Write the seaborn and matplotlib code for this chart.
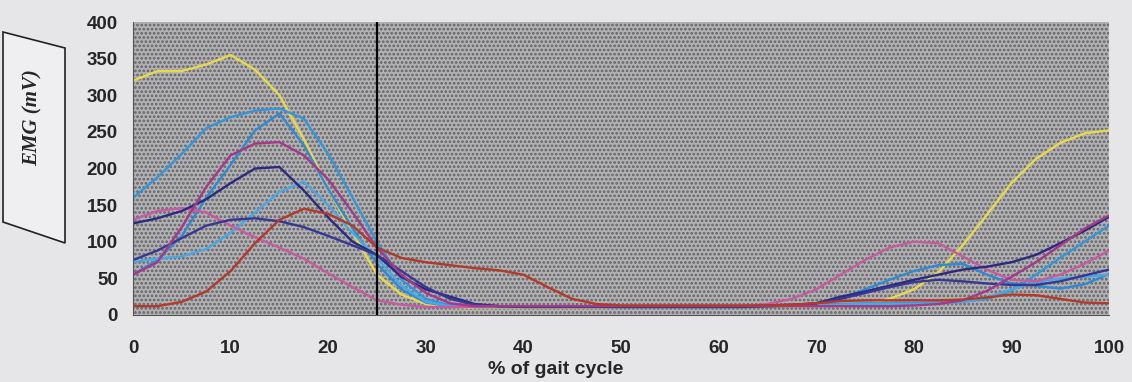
import numpy as np
import pandas as pd
import seaborn as sns
import matplotlib
matplotlib.use('Agg')
from matplotlib import pyplot as plt
from matplotlib.patches import Polygon

# % of gait cycle, step 2.5
gait = np.arange(0, 100.01, 2.5)

yellow = [320, 333, 333, 342, 355, 335, 300, 240, 172, 112, 55, 28, 15,
          11, 10, 10, 10, 10, 10, 10, 11, 12, 12, 12, 12, 12, 12, 12,
          12, 12, 14, 22, 35, 58, 95, 137, 180, 213, 235, 248, 252]
blue_a = [160, 188, 220, 255, 270, 279, 282, 268, 220, 160, 100, 48, 22,
          13, 11, 11, 11, 11, 11, 11, 11, 11, 11, 11, 11, 11, 12, 13,
          14, 15, 16, 16, 16, 17, 18, 22, 33, 55, 78, 100, 122]
blue_b = [55, 75, 108, 160, 205, 252, 275, 232, 172, 118, 70, 35, 17,
          12, 11, 11, 11, 11, 11, 11, 11, 11, 11, 11, 11, 11, 12, 13,
          15, 22, 35, 48, 60, 68, 70, 55, 43, 40, 36, 42, 56]
blue_c = [72, 77, 80, 90, 112, 140, 168, 182, 150, 112, 78, 40, 18,
          12, 11, 11, 11, 11, 11, 11, 11, 11, 11, 11, 11, 11, 12, 13,
          13, 14, 15, 15, 15, 16, 18, 24, 35, 45, 50, 52, 55]
pink = [130, 142, 146, 140, 122, 106, 92, 77, 57, 38, 20, 14, 11,
        11, 11, 11, 11, 11, 11, 11, 11, 11, 11, 11, 12, 12, 15, 22,
        35, 55, 75, 92, 100, 98, 80, 62, 48, 46, 55, 70, 88]
navy_a = [125, 132, 142, 158, 180, 200, 202, 170, 133, 100, 82, 52, 35,
          25, 15, 12, 11, 11, 11, 11, 11, 11, 11, 11, 11, 11, 12, 13,
          16, 25, 32, 40, 48, 55, 62, 66, 72, 82, 98, 115, 134]
navy_b = [75, 88, 105, 122, 130, 132, 128, 120, 108, 95, 82, 60, 38,
          22, 14, 12, 12, 12, 12, 12, 12, 12, 12, 12, 12, 12, 13, 14,
          16, 22, 30, 38, 45, 48, 46, 43, 41, 41, 46, 54, 62]
magenta = [55, 72, 120, 175, 218, 234, 236, 218, 185, 140, 92, 55, 30,
           16, 12, 12, 12, 12, 12, 12, 12, 12, 12, 12, 12, 12, 12, 12,
           12, 12, 12, 12, 13, 15, 20, 33, 52, 72, 95, 118, 136]
red = [12, 12, 18, 32, 60, 98, 130, 145, 138, 122, 92, 78, 72,
       68, 64, 61, 55, 38, 22, 15, 13, 13, 13, 13, 13, 13, 13, 14,
       16, 19, 20, 20, 20, 20, 21, 24, 28, 27, 22, 17, 16]

series = {'yellow': yellow, 'blue_a': blue_a, 'blue_b': blue_b, 'blue_c': blue_c,
          'pink': pink, 'navy_a': navy_a, 'navy_b': navy_b,
          'magenta': magenta, 'red': red}
colors = {'yellow': '#e8d94a', 'blue_a': '#3296dc', 'blue_b': '#2e8ad4',
          'blue_c': '#48a8e6', 'pink': '#c85aa0', 'navy_a': '#2c2a80',
          'navy_b': '#383894', 'magenta': '#a4398a', 'red': '#b3392a'}

df = pd.concat([pd.DataFrame({'gait': gait, 'emg': v, 'subject': k})
                for k, v in series.items()], ignore_index=True)

sns.set_style('white')
plt.rcParams['font.family'] = ['Liberation Sans', 'DejaVu Sans']
plt.rcParams['hatch.linewidth'] = 1.3

fig = plt.figure(figsize=(11.32, 3.82), dpi=100, facecolor='#e6e6e8')
ax = fig.add_axes([0.1175, 0.1754, 0.8622, 0.767])
ax.set_facecolor('#b2b2b4')
ax.patch.set_hatch('....')
ax.patch.set_edgecolor('#626266')

sns.lineplot(data=df, x='gait', y='emg', hue='subject', palette=colors,
             linewidth=1.7, legend=False, ax=ax, estimator=None)
ax.axvline(25, color='black', lw=1.6)

ax.set_xlim(0, 100)
ax.set_ylim(0, 400)
ax.set_xticks(range(0, 101, 10))
ax.set_yticks(range(0, 401, 50))
ax.tick_params(axis='both', labelsize=13.5, length=4, width=0.8, color='#444444')
ax.tick_params(axis='x', pad=14)
ax.tick_params(axis='y', pad=7)
for lab in ax.get_xticklabels() + ax.get_yticklabels():
    lab.set_fontweight('bold')
ax.set_xlabel('')
ax.set_ylabel('')
for s in ['top', 'right']:
    ax.spines[s].set_visible(False)
for s in ['left', 'bottom']:
    ax.spines[s].set_color('#555555')
    ax.spines[s].set_linewidth(0.8)

fig.text(556 / 1132, 1 - 369 / 382, '% of gait cycle', ha='center', va='center',
         fontsize=14, fontweight='bold')

# framed y-label
box = Polygon([(3 / 1132, 1 - 32 / 382), (65 / 1132, 1 - 48 / 382),
               (65 / 1132, 1 - 243 / 382), (3 / 1132, 1 - 222 / 382)],
              closed=True, transform=fig.transFigure, facecolor='#efeff1',
              edgecolor='#222222', lw=1.2)
fig.patches.append(box)
fig.text(33 / 1132, 1 - 118 / 382, 'EMG (mV)', rotation=90, ha='center', va='center',
         fontsize=15, fontweight='bold', fontstyle='italic',
         family=['Liberation Serif', 'DejaVu Serif'])

fig.savefig('out.png', dpi=100, facecolor=fig.get_facecolor())
